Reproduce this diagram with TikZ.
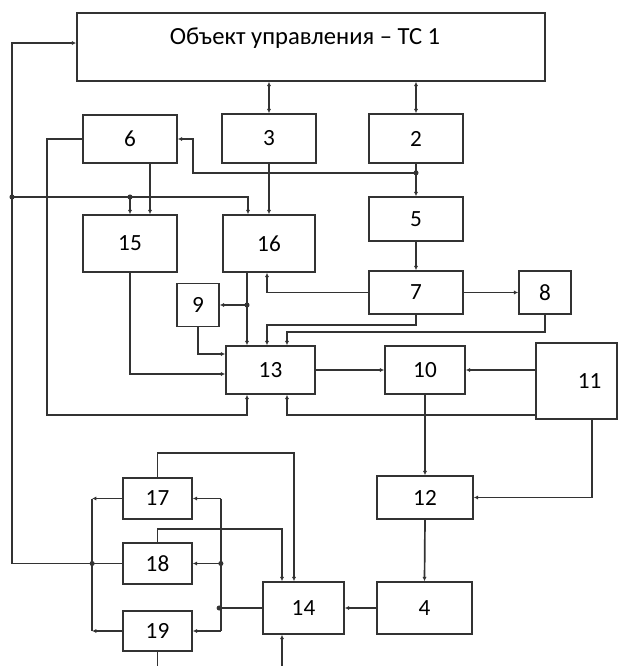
\documentclass[tikz,border=0pt]{standalone}
\usepackage{fontspec}
\setmainfont{Carlito}
\usetikzlibrary{arrows.meta, calc}

\tikzset{
  blk/.style={draw, inner sep=0pt, text=black},
  tip/.style={-{Latex[length=3pt,width=3pt]}},
  tips/.style={{Latex[length=3pt,width=3pt]}-{Latex[length=3pt,width=3pt]}},
}

\begin{document}
\begin{tikzpicture}[x=0.025cm, y=-0.025cm, line width=1.2pt, black!80,
    font=\fontsize{16.5}{19}\selectfont]
    \useasboundingbox (0,0) rectangle (619,666);

    % Draw the object and the blocks
    \node[blk, minimum width=11.7cm, minimum height=1.7cm] (obj) at (311,47) {};
    \node[text=black, font=\fontsize{17.5}{20}\selectfont] (objtxt) at (305,38) {Объект управления – ТС 1};
    \node[blk, minimum width=2.35cm, minimum height=1.2cm] (n6) at (130,139) {6};
    \node[blk, minimum width=2.35cm, minimum height=1.225cm] (n3) at (269,138.5) {3};
    \node[blk, minimum width=2.35cm, minimum height=1.225cm] (n2) at (416,138.5) {2};
    \node[blk, minimum width=2.35cm, minimum height=1.1cm] (n5) at (416,219) {5};
    \node[blk, minimum width=2.35cm, minimum height=1.075cm] (n7) at (416,292.5) {7};
    \node[blk, minimum width=1.3cm, minimum height=1.075cm] (n8) at (545,292.5) {8};
    \node[blk, minimum width=2.35cm, minimum height=1.425cm] (n15) at (130,243.5) {15};
    \node[blk, minimum width=2.3cm, minimum height=1.425cm] (n16) at (269,243.5) {16};
    \node[blk, minimum width=1.05cm, minimum height=1.075cm] (n9) at (198,305) {9};
    \node[blk, minimum width=2.225cm, minimum height=1.2cm] (n13) at (270.5,370) {13};
    \node[blk, minimum width=2cm, minimum height=1.2cm] (n10) at (425,370) {10};
    \node[blk, minimum width=2.025cm, minimum height=1.9cm,
        label={[xshift=0.33cm, text=black]center:11}] (n11) at (576.5,381) {};
    \node[blk, minimum width=2.4cm, minimum height=1.075cm] (n12) at (425,497.5) {12};
    \node[blk, minimum width=2.375cm, minimum height=1.3cm] (n4) at (424.5,608) {4};
    \node[blk, minimum width=2.025cm, minimum height=1.3cm] (n14) at (303.5,608) {14};
    \node[blk, minimum width=1.725cm, minimum height=1.025cm] (n17) at (157.5,498.5) {17};
    \node[blk, minimum width=1.725cm, minimum height=1.025cm] (n18) at (157.5,563.5) {18};
    \node[blk, minimum width=1.725cm, minimum height=1cm] (n19) at (157.5,631) {19};

    % Links of the object
    \draw[tips] (n3.north |- obj.south) -- (n3.north);
    \draw[tips] (n2.north |- obj.south) -- (n2.north);

    % Chain 2 - 5 - 7 - 8
    \coordinate (j2) at ($(n2.south)+(0,9)$);
    \draw[tip] (n2.south) -- (n5.north);
    \draw[tip] (j2) -| ($(n6.east)+(15,0)$) -- (n6.east);
    \draw[tip] (n5.south) -- (n7.north);
    \draw[tip] (n7.east) -- (n8.west);

    % Feedback line to the object
    \coordinate (fb) at (12,197);
    \coordinate (lb) at ($(n18.west)+(-30,0)$);
    \draw[tip] (n18.west) -- (lb) -| (fb) |- ($(obj.west)+(0,-4)$);
    \draw[tip] (fb) -| ($(n16.north)+(-21,0)$);
    \draw[tip] (n15.north |- fb) -- (n15.north);
    \draw[tip] ($(n6.south)+(20,0)$) -- ($(n15.north)+(20,0)$);
    \draw[tip] (n3.south) -- (n16.north);

    % Inputs of block 13
    \coordinate (s16) at ($(n16.south)+(-22,0)$);
    \coordinate (b13) at (s16 |- n13.south);
    \draw[tip] (s16) -- (s16 |- n13.north);
    \draw[tip] (s16 |- n9.east) -- (n9.east);
    \draw[tip] (n9.south) |- ($(n13.west)+(0,-16)$);
    \draw[tip] (n15.south) |- ($(n13.west)+(0,4)$);
    \draw[tip] (n6.west) -- ++(-35,0) |- ($(b13)+(0,20)$) -- (b13);
    \draw[tip] (n7.west) -| ($(n16.south)+(-2,0)$);
    \draw[tip] (n7.south) -- ++(0,10) -| ($(n13.north)+(-3.5,0)$);
    \draw[tip] (n8.south) -- ++(0,17) -| ($(n13.north)+(16.5,0)$);
    \draw[tip] ($(n11.west)+(0,34)$) -| ($(n13.south)+(16.5,0)$);

    % Blocks 10, 11, 12, 4
    \draw[tip] (n13.east) -- (n10.west);
    \draw[tip] (n10.east -| n11.west) -- (n10.east);
    \draw[tip] (n10.south) -- (n12.north);
    \draw[tip] ($(n11.south)+(15.5,0)$) |- (n12.east);
    \draw[tip] (n12.south) -- (n4.north);
    \draw[tip] (n4.west) -- (n14.east);

    % Blocks 17 - 19 and 14
    \coordinate (rb) at ($(n14.west)+(-43,0)$);
    \draw (n14.west) -- (rb);
    \draw ($(n17.east)+(28,0)$) -- ($(n19.east)+(28,0)$);
    \foreach \n in {17,18,19} {
        \draw[tip] ($(n\n.east)+(28,0)$) -- (n\n.east);
    }
    \draw[tip] (n17.west) -- ++(-30,0);
    \draw[tip] (n19.west) -- ++(-30,0);
    \draw (lb |- n17.west) -- (lb |- n19.west);
    \draw[tip] (n17.north) -- ++(0,-24) -| ($(n14.north)+(-9.5,0)$);
    \draw[tip] (n18.north) -- ++(0,-13) -| ($(n14.north)+(-21.5,0)$);
    \draw (n19.south) -- ++(0,15);
    \draw[tip] ($(n14.south)+(-21.5,32)$) -- ($(n14.south)+(-21.5,0)$);

    % Junction dots
    \foreach \p in {fb, lb, j2, rb, n15.north |- fb, s16 |- n9.east} {
        \fill (\p) circle (1.8pt);
    }
    \fill ($(n18.east)+(28,0)$) circle (1.8pt);
\end{tikzpicture}
\end{document}
